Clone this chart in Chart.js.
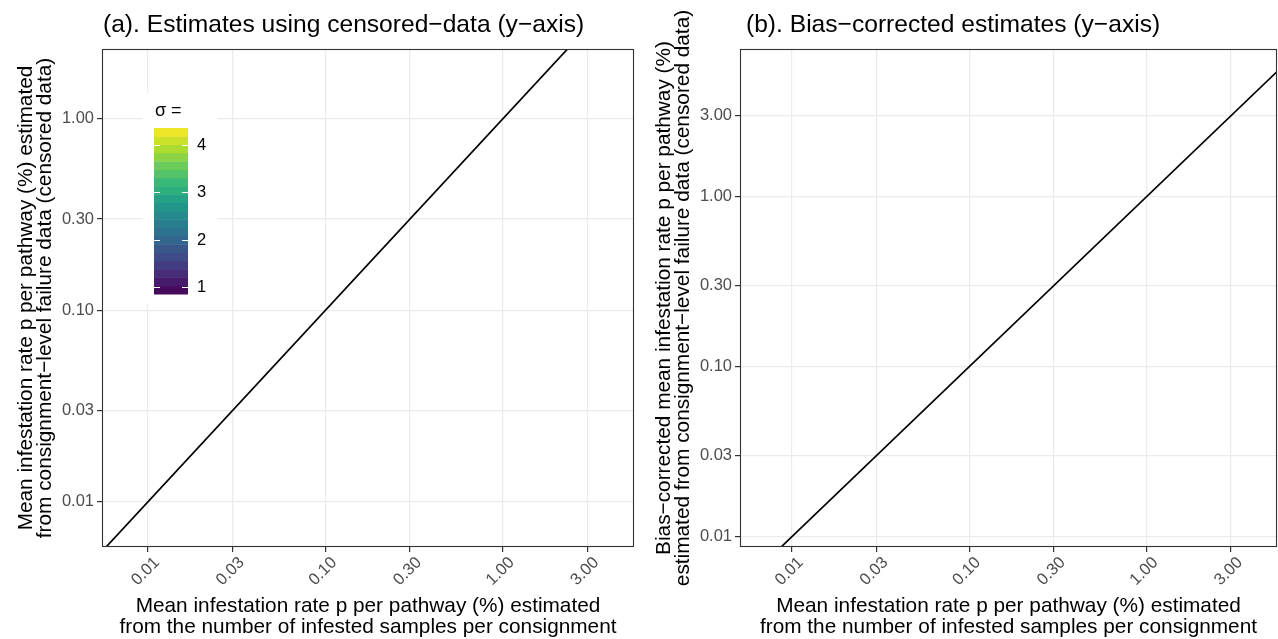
<!DOCTYPE html>
<html>
<head>
<meta charset="utf-8">
<script src="https://cdn.jsdelivr.net/npm/chart.js@4.4.1/dist/chart.umd.min.js"></script>
<style>
  body { margin: 0; background: #fff; }
  #wrap { position: relative; width: 1278px; height: 639px; }
  canvas { position: absolute; top: 0; }
</style>
</head>
<body>
<div id="wrap">
  <canvas id="chartA" width="640" height="639" style="left:0"></canvas>
  <canvas id="chartB" width="638" height="639" style="left:640px"></canvas>
</div>
<script>
// identity line (y = x), drawn through both log axes and clipped to the panel
var lineX = [0.001, 10];
var lineY = [0.001, 10];

var tickValues = [0.01, 0.03, 0.1, 0.3, 1, 3];

// axis limits
var xLimA = [0.0055, 5.5];
var yLimA = [0.0058, 2.32];
var xLimB = [0.0051, 5.45];
var yLimB = [0.0087, 7.4];

// sigma colour legend (panel a)
var sigmaBreaks = [1, 2, 3, 4];
var sigmaLimits = [0.85, 4.36];
var sigmaBins = 20;

var viridis = ['#440154', '#482878', '#3E4A89', '#31688E', '#26828E',
               '#1F9E89', '#35B779', '#6DCD59', '#B4DE2C', '#FDE725'];

function viridisAt(t) {
    var p = t * (viridis.length - 1);
    var i = Math.min(Math.floor(p), viridis.length - 2);
    var f = p - i;
    var a = viridis[i], b = viridis[i + 1];
    var c = [1, 3, 5].map(function (k) {
        var va = parseInt(a.substr(k, 2), 16), vb = parseInt(b.substr(k, 2), 16);
        return Math.round(va + (vb - va) * f);
    });
    return 'rgb(' + c.join(',') + ')';
}

var FONT = '"Liberation Sans", Arial, Helvetica, sans-serif';

// titles, axis titles and the panel border
function decorPlugin(opt) {
    return {
        id: 'decor',
        afterDraw: function (chart) {
            var c = chart.ctx, a = chart.chartArea;
            c.save();
            c.strokeStyle = '#333333';
            c.lineWidth = 1.1;
            c.strokeRect(a.left + 0.5, a.top + 0.5, a.right - a.left - 1, a.bottom - a.top - 1);

            c.fillStyle = '#000';
            c.font = '24.6px ' + FONT;
            c.textBaseline = 'middle';
            c.textAlign = 'left';
            c.fillText(opt.title, a.left + opt.titleDx, 25);

            c.font = '20.8px ' + FONT;
            c.textAlign = 'center';
            var cx = (a.left + a.right) / 2;
            c.fillText(opt.xTitle[0], cx, 606);
            c.fillText(opt.xTitle[1], cx, 627);

            var cy = (a.top + a.bottom) / 2;
            c.translate(opt.yTitleX, cy);
            c.rotate(-Math.PI / 2);
            c.fillText(opt.yTitle[0], 0, 0);
            c.fillText(opt.yTitle[1], 0, 19);
            c.restore();
        }
    };
}

var sigmaLegend = {
    id: 'sigmaLegend',
    afterDraw: function (chart) {
        var c = chart.ctx;
        var x0 = 154, x1 = 188, top = 128, bot = 294;
        var toY = function (v) {
            return bot - (v - sigmaLimits[0]) / (sigmaLimits[1] - sigmaLimits[0]) * (bot - top);
        };
        c.save();
        c.fillStyle = '#fff';
        c.fillRect(143, 93, 74, 211);

        c.fillStyle = '#000';
        c.font = '18px ' + FONT;
        c.textBaseline = 'middle';
        c.textAlign = 'left';
        c.fillText('\u03c3 =', 155, 111);

        var h = (bot - top) / sigmaBins;
        for (var i = 0; i < sigmaBins; i++) {
            c.fillStyle = viridisAt((i + 0.5) / sigmaBins);
            c.fillRect(x0, bot - (i + 1) * h, x1 - x0, h + 0.5);
        }
        c.strokeStyle = '#fff';
        c.lineWidth = 1;
        c.font = '16.5px ' + FONT;
        sigmaBreaks.forEach(function (v) {
            var y = Math.round(toY(v)) + 0.5;
            c.beginPath();
            c.moveTo(x0, y); c.lineTo(x0 + 6, y);
            c.moveTo(x1 - 6, y); c.lineTo(x1, y);
            c.stroke();
            c.fillStyle = '#000';
            c.fillText(String(v), 197, y);
        });
        c.restore();
    }
};

function logAxis(lim, fit) {
    return {
        type: 'logarithmic',
        min: lim[0],
        max: lim[1],
        bounds: 'data',
        afterBuildTicks: function (scale) {
            scale.ticks = tickValues
                .filter(function (v) { return v >= lim[0] && v <= lim[1]; })
                .map(function (v) { return { value: v }; });
        },
        afterFit: fit,
        border: { display: false },
        grid: { color: '#ebebeb', lineWidth: 1.2, tickColor: '#333333', tickLength: 5 },
        ticks: {
            autoSkip: false,
            color: '#4d4d4d',
            font: { family: FONT, size: 16.5 },
            padding: 3,
            callback: function (v) { return Number(v).toFixed(2); }
        }
    };
}

function makePanel(id, xLim, yLim, area, plugins) {
    var ctx = document.getElementById(id).getContext('2d');
    var xAxis = logAxis(xLim, function (s) { s.height = 639 - area.bottom; });
    xAxis.ticks.maxRotation = 45;
    xAxis.ticks.minRotation = 45;
    xAxis.ticks.labelOffset = 9;
    xAxis.ticks.padding = 1;
    var yAxis = logAxis(yLim, function (s) { s.width = area.left; });

    return new Chart(ctx, {
        type: 'scatter',
        data: {
            datasets: [{
                data: lineX.map(function (x, i) { return { x: x, y: lineY[i] }; }),
                showLine: true,
                borderColor: '#000',
                borderWidth: 1.7,
                pointRadius: 0
            }]
        },
        options: {
            responsive: false,
            animation: false,
            layout: { padding: { top: area.top, right: area.right, left: 0, bottom: 0 } },
            plugins: { legend: { display: false }, tooltip: { enabled: false } },
            scales: { x: xAxis, y: yAxis }
        },
        plugins: plugins
    });
}

makePanel('chartA', xLimA, yLimA, { left: 102, top: 49, right: 6, bottom: 547 }, [
    decorPlugin({
        title: '(a). Estimates using censored\u2212data (y\u2212axis)',
        titleDx: 1,
        xTitle: ['Mean infestation rate p per pathway (%) estimated',
                 'from the number of infested samples per consignment'],
        yTitle: ['Mean infestation rate p per pathway (%) estimated',
                 'from consignment\u2212level failure data (censored data)'],
        yTitleX: 26
    }),
    sigmaLegend
]);

makePanel('chartB', xLimB, yLimB, { left: 100, top: 49, right: 1, bottom: 547 }, [
    decorPlugin({
        title: '(b). Bias\u2212corrected estimates (y\u2212axis)',
        titleDx: 6,
        xTitle: ['Mean infestation rate p per pathway (%) estimated',
                 'from the number of infested samples per consignment'],
        yTitle: ['Bias\u2212corrected mean infestation rate p per pathway (%)',
                 'estimated from consignment\u2212level failure data (censored data)'],
        yTitleX: 24
    })
]);
</script>
</body>
</html>
